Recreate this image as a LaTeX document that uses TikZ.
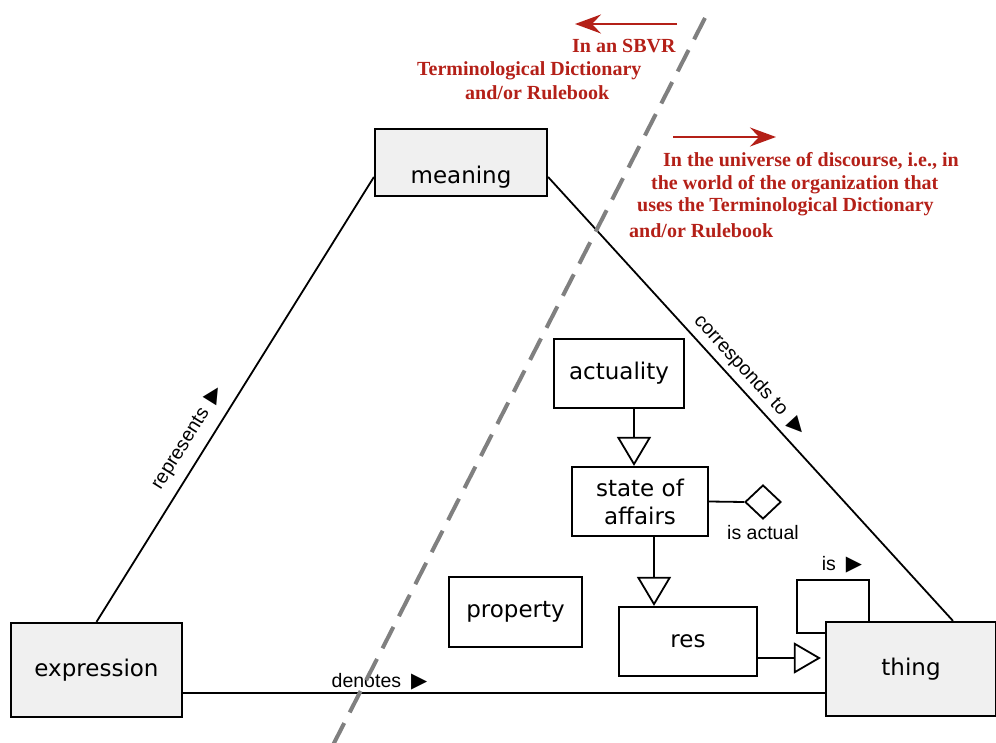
\documentclass[tikz,border=0pt]{standalone}
\usepackage{fontspec}
\usetikzlibrary{arrows.meta,shapes.geometric}
\newfontfamily\boxfont{DejaVu Sans}
\newfontfamily\lblfont{Liberation Sans}
\newfontfamily\symfont{DejaVu Sans}
\newfontfamily\redfont{Liberation Serif}
\definecolor{sbvrred}{RGB}{180,32,24}
\definecolor{boxgray}{RGB}{240,240,240}
\definecolor{divgray}{RGB}{128,128,128}
\newcommand{\tri}{{\symfont\fontsize{21}{21}\selectfont ▶}}
\begin{document}
\begin{tikzpicture}[x=1pt,y=-1pt,
  wbox/.style={draw=black, line width=2.2pt, inner sep=0pt, fill=white, align=center,
    font=\boxfont\fontsize{23}{28}\selectfont},
  gbox/.style={wbox, fill=boxgray},
  conn/.style={draw=black, line width=1.8pt},
  gen/.style={-{Triangle[open, length=29pt, width=34pt]}},
  lbl/.style={font=\lblfont\fontsize{19.5}{22}\selectfont, inner sep=0pt},
  redtxt/.style={text=sbvrred, font=\redfont\bfseries\fontsize{20}{24}\selectfont, anchor=base west, inner sep=0pt},
  redarrow/.style={draw=sbvrred, line width=2.2pt, -{Stealth[length=26pt, width=19pt, inset=9pt]}}
]
\useasboundingbox (0,0) rectangle (996,743);

% boxes
\node[gbox, minimum width=172pt, minimum height=67pt] (meaning) at (461,162.5) {\raisebox{-21pt}[0pt][0pt]{meaning}};
\node[gbox, minimum width=171pt, minimum height=94pt] (expression) at (96.5,670) {expression};
\node[gbox, minimum width=170pt, minimum height=94pt] (thing) at (911,669) {thing};
\node[wbox, minimum width=130pt, minimum height=69pt] (actuality) at (619,373.5) {actuality};
\node[wbox, minimum width=136pt, minimum height=69pt] (state) at (640,501.5) {state of\\affairs};
\node[wbox, minimum width=138pt, minimum height=69pt] (res) at (688,641.5) {res};
\node[wbox, minimum width=133pt, minimum height=70pt] (property) at (515.5,612) {property};

% triangle edges
\draw[conn] (expression.north) -- node[lbl, sloped, pos=0.39, above=10pt] {represents\hspace{10pt}\tri} ([yshift=-14.5pt]meaning.west);
\draw[conn] ([yshift=-14.5pt]meaning.east) -- node[lbl, sloped, pos=0.47, above=5pt] {corresponds to\hspace{10pt}\tri} ([xshift=42pt]thing.north);
\coordinate (denA) at ([yshift=-23pt]expression.east);
\coordinate (denB) at (denA -| thing.west);
\draw[conn] (denA) -- node[lbl, pos=0.306, above=2pt] {denotes\hspace{10pt}\tri} (denB);

% generalizations
\draw[conn, gen] ([xshift=15pt]actuality.south) -- ([xshift=-6pt]state.north);
\draw[conn, gen] ([xshift=14pt]state.south) -- ([xshift=-34pt]res.north);
\coordinate (resout) at ([yshift=-16.5pt]res.east);
\coordinate (resin) at (resout -| thing.west);
\draw[conn, -{Triangle[open, length=27pt, width=31pt]}] (resout) -- ([xshift=-4pt]resin);

% is actual
\node[diamond, draw=black, line width=1.8pt, minimum width=36pt, minimum height=34pt, inner sep=0pt, fill=white] (isact) at (763,502) {};
\draw[conn] (state.east) -- (isact.west);
\node[lbl, anchor=north] (isactlbl) at ([yshift=-5pt]isact.south) {is actual};

% is loop
\coordinate (lp1) at (797,580);
\coordinate (lp2) at (797,633);
\draw[conn] ([xshift=-42pt]thing.north) |- (lp1) -- (lp2) -- (lp2 -| thing.west);
\node[lbl, anchor=base] (islbl) at (842,570) {is\hspace{10pt}\tri};

% dividing line
\coordinate (dtop) at (705,18);
\coordinate (dbot) at (333,745);
\draw[divgray, line width=4pt, dash pattern=on 24pt off 12pt] (dtop) -- (dbot);

% red arrows
\coordinate (a1s) at (677,24);
\coordinate (a1e) at (575,24);
\draw[redarrow] (a1s) -- (a1e);
\coordinate (a2s) at (673,137);
\coordinate (a2e) at (776,137);
\draw[redarrow] (a2s) -- (a2e);

% red texts
\node[redtxt] (r1) at (572,53) {In an SBVR};
\node[redtxt] (r2) at (417,76) {Terminological Dictionary};
\node[redtxt] (r3) at (465,100) {and/or Rulebook};
\node[redtxt] (r4) at (663,167) {In the universe of discourse, i.e., in};
\node[redtxt] (r5) at (651,190) {the world of the organization that};
\node[redtxt] (r6) at (637,212) {uses the Terminological Dictionary};
\node[redtxt] (r7) at (629,238) {and/or Rulebook};
\end{tikzpicture}
\end{document}
